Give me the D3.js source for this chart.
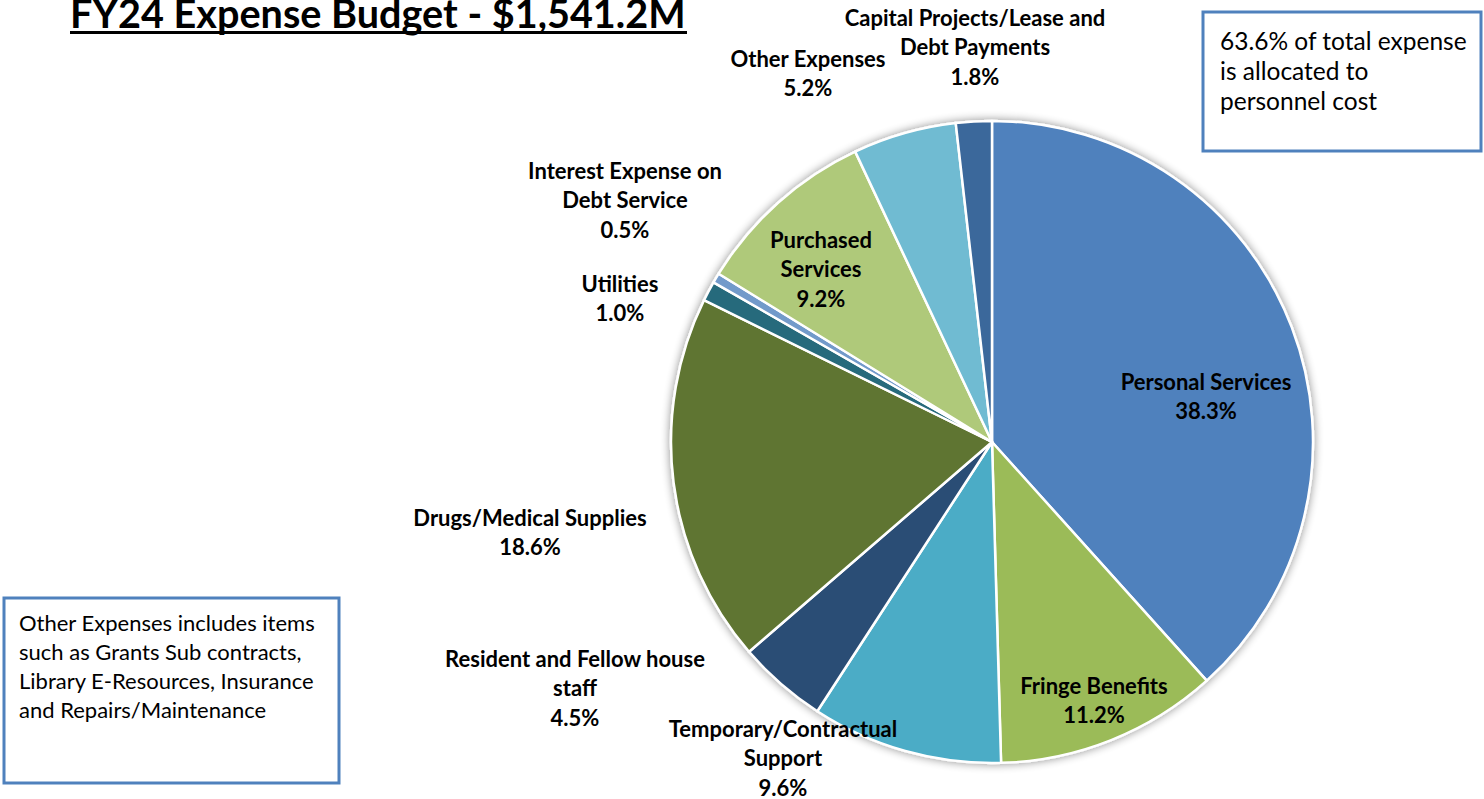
<!DOCTYPE html>
<html>
<head>
<meta charset="utf-8">
<script src="https://cdn.jsdelivr.net/npm/d3@7"></script>
<style>
  body { margin: 0; background: #fff; }
  svg { display: block; font-family: Lato, "Open Sans", sans-serif; }
</style>
</head>
<body>
<div id="chart"></div>
<script>
// data, clockwise from 12 o'clock
var categories = ["Personal Services", "Fringe Benefits", "Temporary/Contractual Support",
  "Resident and Fellow house staff", "Drugs/Medical Supplies", "Utilities",
  "Interest Expense on Debt Service", "Purchased Services", "Other Expenses",
  "Capital Projects/Lease and Debt Payments"];
var shares = [38.3, 11.2, 9.6, 4.5, 18.6, 1.0, 0.5, 9.2, 5.2, 1.8];
var colors = ["#4f81bd", "#9bbb59", "#4bacc6", "#2c4d75", "#5f7530", "#276a7c",
  "#729aca", "#afc97a", "#6fbbd2", "#3a679b"];
// label lines as they wrap in the original
var labelLines = [
  ["Personal Services"], ["Fringe Benefits"], ["Temporary/Contractual", "Support"],
  ["Resident and Fellow house", "staff"], ["Drugs/Medical Supplies"], ["Utilities"],
  ["Interest Expense on", "Debt Service"], ["Purchased", "Services"], ["Other Expenses"],
  ["Capital Projects/Lease and", "Debt Payments"]
];
// label anchor (centre of the first line), in px
var labelPos = [[1206, 381], [1094, 685], [783, 728], [575, 658], [530, 517],
  [620, 283], [625, 170], [821, 239], [808, 58], [975, 17]];

var width = 1484, height = 799;
var cx = 992, cy = 442, radius = 321;

var svg = d3.select("#chart").append("svg")
    .attr("width", width)
    .attr("height", height);

// soft shadow behind the pie
var defs = svg.append("defs");
var f = defs.append("filter").attr("id", "shadow")
    .attr("x", "-10%").attr("y", "-10%").attr("width", "120%").attr("height", "120%");
f.append("feGaussianBlur").attr("in", "SourceAlpha").attr("stdDeviation", 5).attr("result", "b");
f.append("feComponentTransfer").attr("in", "b").attr("result", "s")
  .append("feFuncA").attr("type", "linear").attr("slope", 0.45);
var m = f.append("feMerge");
m.append("feMergeNode").attr("in", "s");
m.append("feMergeNode").attr("in", "SourceGraphic");

// title
svg.append("text")
    .attr("x", 70).attr("y", 28)
    .attr("font-size", 39.6).attr("font-weight", 700)
    .text("FY24 Expense Budget - $1,541.2M");
svg.append("rect")
    .attr("x", 70).attr("y", 31).attr("width", 617).attr("height", 3)
    .attr("fill", "#000");

var pie = d3.pie().sort(null).value(function(d) { return d; });
var arc = d3.arc().innerRadius(0).outerRadius(radius);

var g = svg.append("g")
    .attr("transform", "translate(" + cx + "," + cy + ")")
    .attr("filter", "url(#shadow)");

g.selectAll("path")
  .data(pie(shares))
  .enter().append("path")
    .attr("d", arc)
    .attr("fill", function(d, i) { return colors[i]; })
    .attr("stroke", "#fff")
    .attr("stroke-width", 2.5)
    .attr("stroke-linejoin", "round");

// labels
var lab = svg.append("g").attr("font-size", 22).attr("font-weight", 700).attr("fill", "#000")
    .attr("text-anchor", "middle");
categories.forEach(function(c, i) {
  var lines = labelLines[i].concat([shares[i].toFixed(1) + "%"]);
  var t = lab.append("text");
  lines.forEach(function(l, j) {
    t.append("tspan").attr("x", labelPos[i][0]).attr("y", labelPos[i][1] + j * 29.5)
        .attr("dominant-baseline", "central").text(l);
  });
});

// note boxes
function note(x, y, w, h, lines, fs, lh, tx, ty) {
  svg.append("rect").attr("x", x).attr("y", y).attr("width", w).attr("height", h)
      .attr("fill", "#fff").attr("stroke", "#4f81bd").attr("stroke-width", 3);
  var t = svg.append("text").attr("font-size", fs).attr("fill", "#000");
  lines.forEach(function(l, j) {
    t.append("tspan").attr("x", tx).attr("y", ty + j * lh)
        .attr("dominant-baseline", "central").text(l);
  });
}
note(1203, 12, 278, 139, ["63.6% of total expense", "is allocated to", "personnel cost"], 24.5, 30, 1220, 40);
note(4, 598, 335, 185, ["Other Expenses includes items", "such as Grants Sub contracts,",
  "Library E-Resources, Insurance", "and Repairs/Maintenance"], 22, 29, 19, 622);
</script>
</body>
</html>
